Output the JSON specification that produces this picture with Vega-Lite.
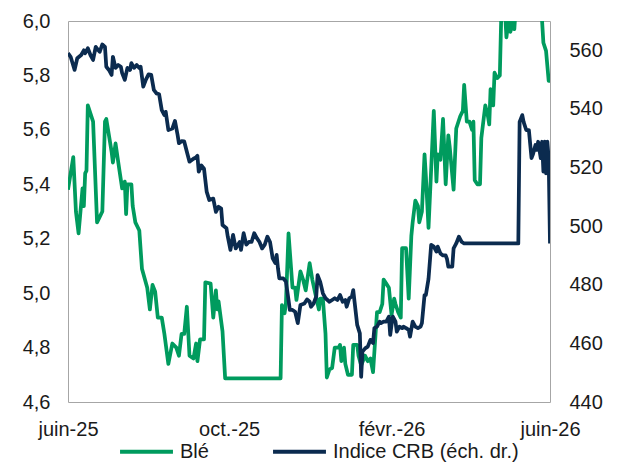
{
  "$schema": "https://vega.github.io/schema/vega-lite/v6.json",
  "width": 482,
  "height": 381,
  "autosize": {"type": "none"},
  "padding": {"left": 68, "top": 21, "right": 70, "bottom": 60},
  "background": "white",
  "config": {
    "font": "Liberation Sans",
    "view": {"stroke": "#A6A6A6", "strokeWidth": 1},
    "axis": {"grid": false, "ticks": false, "domain": false, "labelFontSize": 20, "labelColor": "#1a1a1a", "labelFont": "Liberation Sans", "title": null, "labelOverlap": false, "labelFlush": false}
  },
  "datasets": {
    "ble": [
      {"date": "2025-06-01", "value": 5.38}, {"date": "2025-06-05", "value": 5.50}, {"date": "2025-06-07", "value": 5.30}, {"date": "2025-06-09", "value": 5.22},
      {"date": "2025-06-12", "value": 5.385}, {"date": "2025-06-13", "value": 5.32}, {"date": "2025-06-14", "value": 5.44}, {"date": "2025-06-15", "value": 5.45},
      {"date": "2025-06-16", "value": 5.69}, {"date": "2025-06-20", "value": 5.63}, {"date": "2025-06-23", "value": 5.26}, {"date": "2025-06-27", "value": 5.30},
      {"date": "2025-06-29", "value": 5.63}, {"date": "2025-06-30", "value": 5.64}, {"date": "2025-07-04", "value": 5.52}, {"date": "2025-07-05", "value": 5.48},
      {"date": "2025-07-07", "value": 5.55}, {"date": "2025-07-10", "value": 5.45}, {"date": "2025-07-12", "value": 5.385}, {"date": "2025-07-14", "value": 5.41},
      {"date": "2025-07-15", "value": 5.29}, {"date": "2025-07-16", "value": 5.40}, {"date": "2025-07-19", "value": 5.40}, {"date": "2025-07-20", "value": 5.32},
      {"date": "2025-07-22", "value": 5.26}, {"date": "2025-07-25", "value": 5.23}, {"date": "2025-07-27", "value": 5.09}, {"date": "2025-07-31", "value": 5.02},
      {"date": "2025-08-02", "value": 4.94}, {"date": "2025-08-04", "value": 5.03}, {"date": "2025-08-06", "value": 5.005}, {"date": "2025-08-08", "value": 4.91},
      {"date": "2025-08-11", "value": 4.91}, {"date": "2025-08-13", "value": 4.85}, {"date": "2025-08-16", "value": 4.74}, {"date": "2025-08-19", "value": 4.815},
      {"date": "2025-08-22", "value": 4.80}, {"date": "2025-08-24", "value": 4.77}, {"date": "2025-08-26", "value": 4.85}, {"date": "2025-08-28", "value": 4.85},
      {"date": "2025-08-30", "value": 4.95}, {"date": "2025-09-01", "value": 4.77}, {"date": "2025-09-04", "value": 4.76}, {"date": "2025-09-06", "value": 4.815},
      {"date": "2025-09-07", "value": 4.75}, {"date": "2025-09-09", "value": 4.83}, {"date": "2025-09-12", "value": 4.83}, {"date": "2025-09-13", "value": 5.04},
      {"date": "2025-09-17", "value": 5.035}, {"date": "2025-09-19", "value": 4.91}, {"date": "2025-09-21", "value": 5.01}, {"date": "2025-09-22", "value": 4.94},
      {"date": "2025-09-23", "value": 4.97}, {"date": "2025-09-26", "value": 4.86}, {"date": "2025-09-28", "value": 4.687}, {"date": "2025-11-09", "value": 4.687},
      {"date": "2025-11-10", "value": 4.956}, {"date": "2025-11-12", "value": 4.926}, {"date": "2025-11-13", "value": 4.96}, {"date": "2025-11-15", "value": 5.22},
      {"date": "2025-11-18", "value": 5.02}, {"date": "2025-11-20", "value": 5.02}, {"date": "2025-11-21", "value": 4.975}, {"date": "2025-11-24", "value": 5.08},
      {"date": "2025-11-26", "value": 5.05}, {"date": "2025-11-28", "value": 5.01}, {"date": "2025-12-01", "value": 5.11}, {"date": "2025-12-03", "value": 5.05},
      {"date": "2025-12-05", "value": 5.005}, {"date": "2025-12-08", "value": 4.94}, {"date": "2025-12-09", "value": 4.98}, {"date": "2025-12-11", "value": 4.98},
      {"date": "2025-12-13", "value": 4.85}, {"date": "2025-12-14", "value": 4.69}, {"date": "2025-12-16", "value": 4.72}, {"date": "2025-12-18", "value": 4.725},
      {"date": "2025-12-20", "value": 4.80}, {"date": "2025-12-23", "value": 4.80}, {"date": "2025-12-24", "value": 4.81}, {"date": "2025-12-25", "value": 4.75},
      {"date": "2025-12-27", "value": 4.80}, {"date": "2025-12-28", "value": 4.74}, {"date": "2025-12-30", "value": 4.70}, {"date": "2026-01-02", "value": 4.70},
      {"date": "2026-01-03", "value": 4.81}, {"date": "2026-01-06", "value": 4.81}, {"date": "2026-01-07", "value": 4.77}, {"date": "2026-01-09", "value": 4.735},
      {"date": "2026-01-12", "value": 4.77}, {"date": "2026-01-14", "value": 4.75}, {"date": "2026-01-16", "value": 4.76}, {"date": "2026-01-18", "value": 4.71},
      {"date": "2026-01-21", "value": 4.93}, {"date": "2026-01-23", "value": 4.93}, {"date": "2026-01-25", "value": 4.96}, {"date": "2026-01-26", "value": 5.05},
      {"date": "2026-01-28", "value": 5.035}, {"date": "2026-01-30", "value": 5.02}, {"date": "2026-02-01", "value": 4.92}, {"date": "2026-02-03", "value": 4.98},
      {"date": "2026-02-04", "value": 4.96}, {"date": "2026-02-06", "value": 4.93}, {"date": "2026-02-08", "value": 4.91}, {"date": "2026-02-09", "value": 5.165},
      {"date": "2026-02-12", "value": 5.165}, {"date": "2026-02-14", "value": 4.98}, {"date": "2026-02-16", "value": 5.21}, {"date": "2026-02-17", "value": 5.26},
      {"date": "2026-02-19", "value": 5.34}, {"date": "2026-02-21", "value": 5.32}, {"date": "2026-02-22", "value": 5.26}, {"date": "2026-02-24", "value": 5.30},
      {"date": "2026-02-26", "value": 5.51}, {"date": "2026-02-27", "value": 5.43}, {"date": "2026-03-01", "value": 5.24}, {"date": "2026-03-05", "value": 5.67},
      {"date": "2026-03-07", "value": 5.41}, {"date": "2026-03-08", "value": 5.51}, {"date": "2026-03-10", "value": 5.49}, {"date": "2026-03-12", "value": 5.64},
      {"date": "2026-03-14", "value": 5.40}, {"date": "2026-03-16", "value": 5.58}, {"date": "2026-03-17", "value": 5.54}, {"date": "2026-03-20", "value": 5.38},
      {"date": "2026-03-22", "value": 5.605}, {"date": "2026-03-25", "value": 5.65}, {"date": "2026-03-27", "value": 5.67}, {"date": "2026-03-28", "value": 5.765},
      {"date": "2026-03-30", "value": 5.63}, {"date": "2026-04-01", "value": 5.63}, {"date": "2026-04-03", "value": 5.60}, {"date": "2026-04-04", "value": 5.63},
      {"date": "2026-04-05", "value": 5.415}, {"date": "2026-04-07", "value": 5.40}, {"date": "2026-04-09", "value": 5.40}, {"date": "2026-04-10", "value": 5.57},
      {"date": "2026-04-13", "value": 5.69}, {"date": "2026-04-15", "value": 5.65}, {"date": "2026-04-16", "value": 5.62}, {"date": "2026-04-17", "value": 5.75},
      {"date": "2026-04-19", "value": 5.69}, {"date": "2026-04-20", "value": 5.81}, {"date": "2026-04-22", "value": 5.79}, {"date": "2026-04-24", "value": 5.80},
      {"date": "2026-04-25", "value": 6.00}, {"date": "2026-04-26", "value": 6.08}, {"date": "2026-04-28", "value": 6.03}, {"date": "2026-04-29", "value": 5.94},
      {"date": "2026-05-01", "value": 6.02}, {"date": "2026-05-02", "value": 5.96}, {"date": "2026-05-04", "value": 6.00}, {"date": "2026-05-05", "value": 5.97},
      {"date": "2026-05-06", "value": 6.05}, {"date": "2026-05-10", "value": 6.12}, {"date": "2026-05-14", "value": 6.08}, {"date": "2026-05-18", "value": 6.15},
      {"date": "2026-05-21", "value": 6.10}, {"date": "2026-05-24", "value": 6.04}, {"date": "2026-05-26", "value": 6.00}, {"date": "2026-05-27", "value": 5.92},
      {"date": "2026-05-29", "value": 5.89}, {"date": "2026-05-31", "value": 5.78}, {"date": "2026-06-01", "value": 5.78}
    ],
    "crb": [
      {"date": "2025-06-01", "value": 559.0}, {"date": "2025-06-03", "value": 557.8}, {"date": "2025-06-06", "value": 553.3}, {"date": "2025-06-08", "value": 557.3},
      {"date": "2025-06-11", "value": 558.4}, {"date": "2025-06-13", "value": 560.0}, {"date": "2025-06-14", "value": 559.0}, {"date": "2025-06-16", "value": 560.7},
      {"date": "2025-06-18", "value": 558.4}, {"date": "2025-06-20", "value": 556.7}, {"date": "2025-06-22", "value": 561.2}, {"date": "2025-06-24", "value": 560.0},
      {"date": "2025-06-25", "value": 559.5}, {"date": "2025-06-27", "value": 562.0}, {"date": "2025-06-29", "value": 561.2}, {"date": "2025-06-30", "value": 554.4},
      {"date": "2025-07-02", "value": 553.3}, {"date": "2025-07-04", "value": 551.6}, {"date": "2025-07-05", "value": 557.8}, {"date": "2025-07-07", "value": 554.0},
      {"date": "2025-07-09", "value": 555.0}, {"date": "2025-07-11", "value": 554.4}, {"date": "2025-07-12", "value": 552.2}, {"date": "2025-07-14", "value": 549.9},
      {"date": "2025-07-16", "value": 554.0}, {"date": "2025-07-18", "value": 553.3}, {"date": "2025-07-19", "value": 555.6}, {"date": "2025-07-21", "value": 554.0},
      {"date": "2025-07-23", "value": 555.0}, {"date": "2025-07-25", "value": 554.0}, {"date": "2025-07-26", "value": 554.4}, {"date": "2025-07-28", "value": 547.6},
      {"date": "2025-07-30", "value": 550.0}, {"date": "2025-08-01", "value": 551.8}, {"date": "2025-08-03", "value": 551.6}, {"date": "2025-08-05", "value": 546.5},
      {"date": "2025-08-07", "value": 545.3}, {"date": "2025-08-09", "value": 545.0}, {"date": "2025-08-11", "value": 539.6}, {"date": "2025-08-13", "value": 537.9},
      {"date": "2025-08-14", "value": 539.0}, {"date": "2025-08-16", "value": 532.8}, {"date": "2025-08-19", "value": 533.3}, {"date": "2025-08-21", "value": 535.9},
      {"date": "2025-08-23", "value": 531.1}, {"date": "2025-08-24", "value": 528.3}, {"date": "2025-08-26", "value": 529.0}, {"date": "2025-08-28", "value": 528.9},
      {"date": "2025-08-30", "value": 525.4}, {"date": "2025-09-01", "value": 522.0}, {"date": "2025-09-04", "value": 523.0}, {"date": "2025-09-06", "value": 523.5},
      {"date": "2025-09-07", "value": 524.0}, {"date": "2025-09-08", "value": 518.6}, {"date": "2025-09-10", "value": 520.7}, {"date": "2025-09-12", "value": 519.6},
      {"date": "2025-09-14", "value": 511.8}, {"date": "2025-09-16", "value": 508.9}, {"date": "2025-09-19", "value": 509.4}, {"date": "2025-09-21", "value": 504.9},
      {"date": "2025-09-23", "value": 506.6}, {"date": "2025-09-25", "value": 506.0}, {"date": "2025-09-26", "value": 500.4}, {"date": "2025-09-29", "value": 499.3},
      {"date": "2025-09-30", "value": 496.4}, {"date": "2025-10-02", "value": 491.9}, {"date": "2025-10-04", "value": 497.0}, {"date": "2025-10-06", "value": 492.4},
      {"date": "2025-10-09", "value": 494.6}, {"date": "2025-10-10", "value": 491.9}, {"date": "2025-10-12", "value": 497.6}, {"date": "2025-10-14", "value": 493.7},
      {"date": "2025-10-16", "value": 494.6}, {"date": "2025-10-18", "value": 494.6}, {"date": "2025-10-20", "value": 497.6}, {"date": "2025-10-22", "value": 495.9},
      {"date": "2025-10-24", "value": 494.6}, {"date": "2025-10-26", "value": 492.4}, {"date": "2025-10-28", "value": 493.7}, {"date": "2025-10-30", "value": 496.4},
      {"date": "2025-11-01", "value": 494.6}, {"date": "2025-11-03", "value": 489.0}, {"date": "2025-11-05", "value": 487.4}, {"date": "2025-11-06", "value": 490.2},
      {"date": "2025-11-07", "value": 485.6}, {"date": "2025-11-08", "value": 482.2}, {"date": "2025-11-11", "value": 482.2}, {"date": "2025-11-13", "value": 481.1},
      {"date": "2025-11-15", "value": 474.8}, {"date": "2025-11-16", "value": 471.4}, {"date": "2025-11-18", "value": 471.4}, {"date": "2025-11-20", "value": 470.8},
      {"date": "2025-11-22", "value": 466.9}, {"date": "2025-11-24", "value": 473.1}, {"date": "2025-11-27", "value": 473.6}, {"date": "2025-11-29", "value": 475.0},
      {"date": "2025-12-01", "value": 474.2}, {"date": "2025-12-02", "value": 472.5}, {"date": "2025-12-04", "value": 473.6}, {"date": "2025-12-06", "value": 476.0},
      {"date": "2025-12-07", "value": 483.3}, {"date": "2025-12-09", "value": 481.0}, {"date": "2025-12-11", "value": 477.1}, {"date": "2025-12-13", "value": 475.4},
      {"date": "2025-12-16", "value": 474.2}, {"date": "2025-12-18", "value": 474.8}, {"date": "2025-12-20", "value": 475.4}, {"date": "2025-12-22", "value": 474.8},
      {"date": "2025-12-24", "value": 476.5}, {"date": "2025-12-26", "value": 474.2}, {"date": "2025-12-28", "value": 474.8}, {"date": "2025-12-29", "value": 472.5},
      {"date": "2025-12-31", "value": 475.4}, {"date": "2026-01-02", "value": 476.0}, {"date": "2026-01-03", "value": 478.2}, {"date": "2026-01-04", "value": 474.2},
      {"date": "2026-01-06", "value": 466.3}, {"date": "2026-01-08", "value": 463.4}, {"date": "2026-01-09", "value": 448.6}, {"date": "2026-01-10", "value": 457.2},
      {"date": "2026-01-12", "value": 458.3}, {"date": "2026-01-14", "value": 458.9}, {"date": "2026-01-16", "value": 461.2}, {"date": "2026-01-18", "value": 460.1},
      {"date": "2026-01-19", "value": 465.2}, {"date": "2026-01-21", "value": 465.7}, {"date": "2026-01-23", "value": 467.4}, {"date": "2026-01-24", "value": 466.9},
      {"date": "2026-01-26", "value": 467.4}, {"date": "2026-01-28", "value": 467.4}, {"date": "2026-01-30", "value": 469.1}, {"date": "2026-01-31", "value": 462.9},
      {"date": "2026-02-01", "value": 466.3}, {"date": "2026-02-02", "value": 469.1}, {"date": "2026-02-04", "value": 467.4}, {"date": "2026-02-05", "value": 464.0},
      {"date": "2026-02-07", "value": 465.7}, {"date": "2026-02-09", "value": 465.2}, {"date": "2026-02-10", "value": 465.7}, {"date": "2026-02-12", "value": 465.2},
      {"date": "2026-02-14", "value": 464.6}, {"date": "2026-02-15", "value": 462.3}, {"date": "2026-02-17", "value": 467.4}, {"date": "2026-02-19", "value": 465.7},
      {"date": "2026-02-21", "value": 465.2}, {"date": "2026-02-23", "value": 465.7}, {"date": "2026-02-24", "value": 466.9}, {"date": "2026-02-26", "value": 476.5},
      {"date": "2026-02-27", "value": 476.5}, {"date": "2026-03-01", "value": 482.0}, {"date": "2026-03-03", "value": 493.6}, {"date": "2026-03-05", "value": 493.0},
      {"date": "2026-03-07", "value": 491.3}, {"date": "2026-03-08", "value": 493.0}, {"date": "2026-03-10", "value": 490.7}, {"date": "2026-03-12", "value": 490.0},
      {"date": "2026-03-14", "value": 490.0}, {"date": "2026-03-15", "value": 488.8}, {"date": "2026-03-16", "value": 486.2}, {"date": "2026-03-19", "value": 486.2},
      {"date": "2026-03-20", "value": 492.4}, {"date": "2026-03-22", "value": 494.1}, {"date": "2026-03-24", "value": 496.4}, {"date": "2026-03-26", "value": 494.7},
      {"date": "2026-03-28", "value": 494.1}, {"date": "2026-05-08", "value": 494.1}, {"date": "2026-05-09", "value": 535.6}, {"date": "2026-05-11", "value": 537.9},
      {"date": "2026-05-12", "value": 535.6}, {"date": "2026-05-14", "value": 532.8}, {"date": "2026-05-16", "value": 532.8}, {"date": "2026-05-18", "value": 523.2},
      {"date": "2026-05-19", "value": 524.4}, {"date": "2026-05-21", "value": 527.7}, {"date": "2026-05-22", "value": 526.0}, {"date": "2026-05-23", "value": 528.8},
      {"date": "2026-05-25", "value": 523.2}, {"date": "2026-05-26", "value": 528.8}, {"date": "2026-05-27", "value": 518.6}, {"date": "2026-05-28", "value": 528.8},
      {"date": "2026-05-29", "value": 518.0}, {"date": "2026-05-30", "value": 528.8}, {"date": "2026-05-31", "value": 523.2}, {"date": "2026-06-01", "value": 494.1}
    ]
  },
  "encoding": {
    "x": {
      "field": "date",
      "type": "temporal",
      "scale": {"type": "utc", "domain": [{"year": 2025, "month": 6, "date": 1, "utc": true}, {"year": 2026, "month": 6, "date": 1, "utc": true}]},
      "axis": {
        "values": [{"year": 2025, "month": 6, "date": 1, "utc": true}, {"year": 2025, "month": 10, "date": 1, "utc": true}, {"year": 2026, "month": 2, "date": 1, "utc": true}, {"year": 2026, "month": 6, "date": 1, "utc": true}],
        "labelExpr": "['janv.','févr.','mars','avr.','mai','juin','juil.','août','sept.','oct.','nov.','déc.'][utcmonth(datum.value)] + '-' + utcFormat(datum.value, '%y')",
        "labelPadding": 17
      }
    }
  },
  "layer": [
    {
      "data": {"name": "ble"},
      "mark": {"type": "line", "strokeWidth": 3.75, "clip": true, "strokeJoin": "round"},
      "encoding": {
        "y": {
          "field": "value", "type": "quantitative",
          "scale": {"domain": [4.6, 6.0], "nice": false, "zero": false},
          "axis": {"orient": "left", "values": [4.6, 4.8, 5.0, 5.2, 5.4, 5.6, 5.8, 6.0], "labelExpr": "replace(format(datum.value, '.1f'), '.', ',')", "labelPadding": 18}
        },
        "color": {
          "datum": "Blé",
          "type": "nominal",
          "scale": {"domain": ["Blé", "Indice CRB (éch. dr.)"], "range": ["#009B5E", "#0B2B4F"]},
          "legend": {"orient": "none", "legendX": 50, "legendY": 402, "direction": "horizontal", "title": null, "symbolType": "stroke", "symbolSize": 2800, "symbolStrokeWidth": 4, "labelFontSize": 20, "labelFont": "Liberation Sans", "labelColor": "#1a1a1a", "labelOffset": 5, "columnPadding": 56, "labelLimit": 400}
        }
      }
    },
    {
      "data": {"name": "crb"},
      "mark": {"type": "line", "strokeWidth": 3.75, "clip": true, "strokeJoin": "round"},
      "encoding": {
        "y": {
          "field": "value", "type": "quantitative",
          "scale": {"domain": [440, 570], "nice": false, "zero": false},
          "axis": {"orient": "right", "values": [440, 460, 480, 500, 520, 540, 560], "labelPadding": 19}
        },
        "color": {"datum": "Indice CRB (éch. dr.)", "type": "nominal"}
      }
    }
  ],
  "resolve": {"scale": {"y": "independent"}}
}
